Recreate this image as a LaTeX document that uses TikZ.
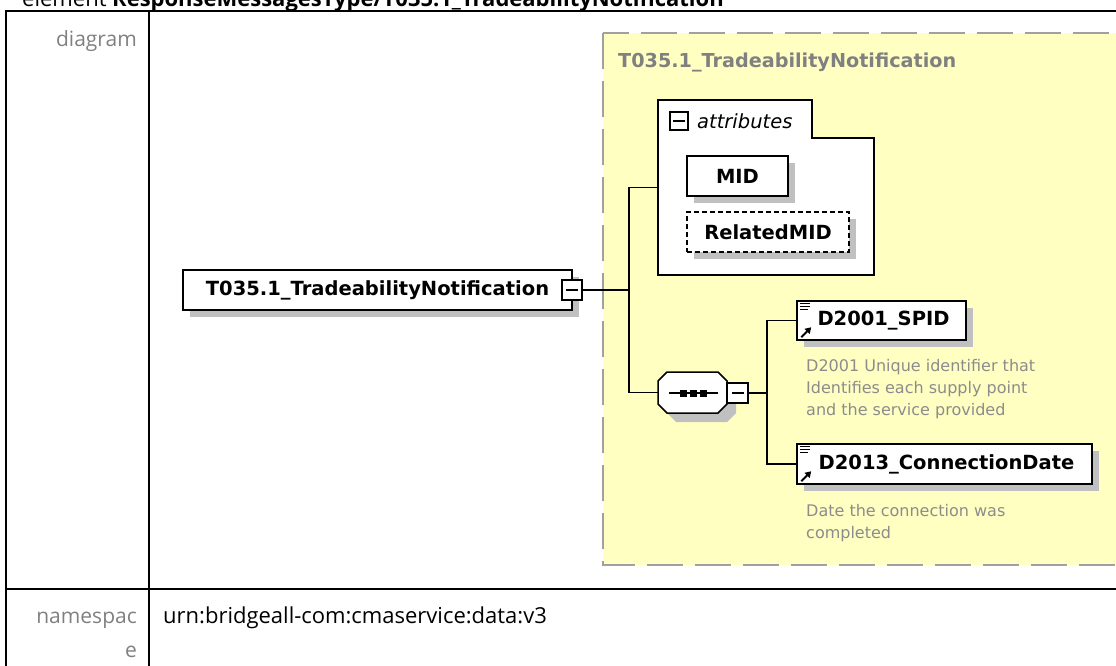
\documentclass[tikz,border=0pt]{standalone}
\usepackage{fontspec}
\setmainfont{Open Sans}
\newfontfamily\dfont{DejaVu Sans}
\usetikzlibrary{shadows,arrows.meta}
\definecolor{yel}{HTML}{FFFFC2}
\definecolor{shgray}{HTML}{C0C0C0}
\definecolor{grpline}{HTML}{A0A0A0}
\definecolor{lblgray}{HTML}{808080}
\definecolor{descgray}{HTML}{8C8C8C}
\tikzset{
  tabline/.style={line width=2pt, black},
  lbl/.style={inner sep=0pt, text=lblgray, font=\fontsize{21}{24}\selectfont},
  tabtext/.style={inner sep=0pt, font=\fontsize{22}{24}\selectfont},
  groupbox/.style={draw=grpline, line width=2pt, fill=yel, dash pattern=on 36pt off 12pt},
  shad/.style={drop shadow={shadow xshift=7pt, shadow yshift=-7pt, fill=shgray, opacity=1}},
  elembox/.style={draw=black, line width=1.5pt, fill=white, inner sep=0pt, shad,
     font=\dfont\bfseries\fontsize{19.5}{22}\selectfont},
  minusbox/.style={draw=black, line width=1.3pt, fill=white, inner sep=0pt,
     minimum width=20pt, minimum height=20pt},
  conn/.style={draw=black, line width=1.5pt},
  desc/.style={inner sep=0pt, text=descgray, align=left,
     font=\dfont\fontsize{16}{22}\selectfont},
}
\begin{document}
\begin{tikzpicture}[x=1pt,y=-1pt]
\useasboundingbox (0,0) rectangle (1116,666);
\clip (0,0) rectangle (1116,666);

% heading (cut off at the top, as in the reference)
\node[anchor=base west, tabtext] (heading) at (22,7)
  {element \textbf{ResponseMessagesType/T035.1\_TradeabilityNotification}};

% table
\draw[tabline] (6,680) -- (6,11) -- (1130,11);
\draw[tabline] (149,11) -- (149,680);
\draw[tabline] (6,589) -- (1130,589);

\node[lbl, anchor=base east] (dlab) at (137,47) {diagram};
\node[lbl, anchor=base east] (nslab) at (137,623) {namespac};
\node[lbl, anchor=base east] (nslab2) at (137,657) {e};
\node[tabtext, anchor=base west] (ns) at (163,623) {urn:bridgeall-com:cmaservice:data:v3};

% complex type group
\path[groupbox] (603,33) rectangle (1140,565);
\node[anchor=west, inner sep=0pt, text=lblgray,
      font=\dfont\bfseries\fontsize{19.2}{22}\selectfont] (gtitle) at (618,62)
  {T035.1\_TradeabilityNotification};

% attributes box
\draw[line width=1.5pt, fill=white] (658,100) -- (812,100) -- (812,138) -- (874,138)
   -- (874,275) -- (658,275) -- cycle;
\node[inner sep=0pt, minimum width=216pt, minimum height=175pt] (attr) at (766,187.5) {};
\node[draw=black, line width=1.2pt, fill=white, inner sep=0pt,
      minimum width=18pt, minimum height=18pt] (attrmin) at (679,121) {};
\draw[line width=1.2pt] (attrmin.center) ++(-6,0) -- ++(12,0);
\node[anchor=west, inner sep=0pt, font=\dfont\itshape\fontsize{19.5}{22}\selectfont]
  (attrtxt) at (697,121) {attributes};

\node[elembox, minimum width=101pt, minimum height=40pt] (mid) at (737.5,176) {MID\hspace{20pt}};
\node[elembox, dash pattern=on 5pt off 3pt, minimum width=162pt, minimum height=40pt]
  (rmid) at (768,232) {RelatedMID};

% main element
\node[elembox, minimum width=389pt, minimum height=40pt] (main) at (377.5,290)
  {T035.1\_TradeabilityNotification\hspace{4pt}};
\node[minusbox] (mainmin) at (572,290) {};
\draw[line width=1.3pt] (mainmin.center) ++(-6,0) -- ++(12,0);

% sequence compositor
\coordinate (seq) at (692.5,392.5);
\draw[line width=1.5pt, fill=white, drop shadow={shadow xshift=9pt, shadow yshift=-9pt, fill=shgray, opacity=1}]
  (658,381) -- (667,372) -- (718,372) -- (727,381) -- (727,404) -- (718,413)
  -- (667,413) -- (658,404) -- cycle;
\node[inner sep=0pt, minimum width=69pt, minimum height=41pt] (seqn) at (seq) {};
\draw[line width=1.3pt] (669,393) -- (718,393);
\foreach \xx in {683,693,703} \fill (\xx-3.5,389.5) rectangle (\xx+3.5,396.5);
\node[minusbox, minimum width=21pt] (seqmin) at (737.5,393) {};
\draw[line width=1.3pt] (seqmin.center) ++(-6,0) -- ++(12,0);

% child elements
\node[elembox, minimum width=169pt, minimum height=39pt] (d1) at (881.5,320.5)
  {\hspace{4pt}D2001\_SPID};
\node[elembox, minimum width=295pt, minimum height=40pt] (d2) at (944.5,464)
  {\hspace{4pt}D2013\_ConnectionDate};

\foreach \n in {d1,d2} {
  \draw[line width=1pt] ([xshift=4pt,yshift=-3.5pt]\n.north west) -- ++(10,0)
                        ([xshift=4pt,yshift=-6.5pt]\n.north west) -- ++(10,0)
                        ([xshift=4pt,yshift=-9.5pt]\n.north west) -- ++(8,0);
  \draw[line width=2pt, -{Triangle[length=6pt,width=7pt]}]
     ([xshift=5pt,yshift=3.5pt]\n.south west) -- ++(10,-10);
}

\node[desc, anchor=north west] (d1desc) at (806,359)
  {D2001 Unique identifier that\\Identifies each supply point\\and the service provided};
\node[desc, anchor=north west] (d2desc) at (806,504)
  {Date the connection was\\completed};

% connectors
\coordinate (tr1) at (629,0);
\coordinate (tr2) at (767,0);
\draw[conn] (mainmin.east) -- (mainmin.east -| tr1);
\draw[conn] (attr.west) -- (attr.west -| tr1) |- (seqn.west);
\draw[conn] (seqmin.east) -- (seqmin.east -| tr2);
\draw[conn] (d1.west) -- (d1.west -| tr2) |- (d2.west);
\end{tikzpicture}
\end{document}
